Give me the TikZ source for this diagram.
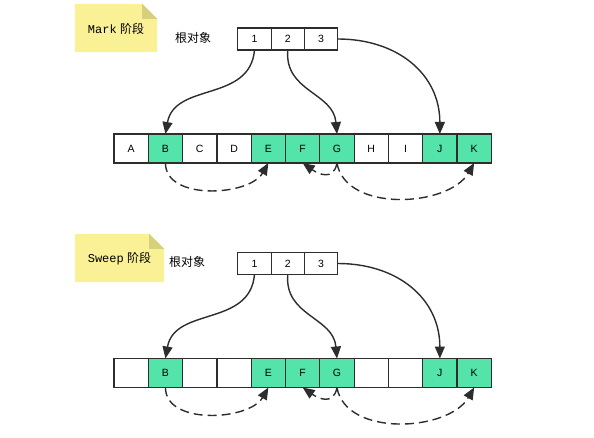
\documentclass[tikz,border=0pt]{standalone}
\usepackage{fontspec}
\setmainfont{Liberation Sans}
\setmonofont{Liberation Mono}
\newfontfamily\cjk{Noto Sans CJK SC}
\usepackage{tikz}
\usetikzlibrary{arrows.meta, positioning}

\definecolor{live}{RGB}{84,228,170}
\definecolor{notebg}{RGB}{250,240,150}
\definecolor{notefold}{RGB}{214,208,122}
\definecolor{edge}{RGB}{45,45,45}

\begin{document}
\begin{tikzpicture}[x=1pt, y=-1pt,
    cell/.style={rectangle, draw=edge, line width=1.2pt, minimum width=34.3pt,
                 minimum height=29pt, inner sep=0pt, outer sep=0pt, font=\fontsize{10.5}{12}\selectfont},
    root/.style={rectangle, draw=edge, line width=1.2pt, minimum width=33.3pt,
                 minimum height=22pt, inner sep=0pt, outer sep=0pt, font=\fontsize{10.5}{12}\selectfont},
    note/.style={minimum height=48pt, inner sep=0pt, font=\fontsize{12}{14}\selectfont},
    lbl/.style={font=\cjk\fontsize{12}{14}\selectfont},
    arr/.style={-{Triangle[length=12pt, width=10pt]}, line width=1.4pt, edge},
    dash arr/.style={arr, dash pattern=on 9pt off 5pt}
]
\useasboundingbox (0,0) rectangle (594,438);

% Mark phase
\foreach \l/\c [count=\i] in {A/white, B/live, C/white, D/white, E/live, F/live,
                               G/live, H/white, I/white, J/live, K/live}
    \node[cell, fill=\c] (m\i) at ({131.15+34.3*(\i-1)}, 148.5) {\l};
\node[root] (mr1) at (254.5, 39) {1};
\node[root, right=0pt of mr1] (mr2) {2};
\node[root, right=0pt of mr2] (mr3) {3};
\node[lbl] (mrl) at (193, 38) {根对象};
\node[note, minimum width=82pt] (mn) at (116, 28) {};

% Sweep phase
\foreach \l/\c [count=\i] in {/white, B/live, /white, /white, E/live, F/live,
                               G/live, /white, /white, J/live, K/live}
    \node[cell, fill=\c] (s\i) at ({131.15+34.3*(\i-1)}, 373) {\l};
\node[root] (sr1) at (254.5, 263.5) {1};
\node[root, right=0pt of sr1] (sr2) {2};
\node[root, right=0pt of sr2] (sr3) {3};
\node[lbl] (srl) at (187, 262) {根对象};
\node[note, minimum width=89pt] (sn) at (119.5, 258) {};

% sticky notes with folded corner
\foreach \n/\t in {mn/Mark, sn/Sweep} {
    \fill[notebg] (\n.south west) -- (\n.north west) -- ([xshift=-15pt]\n.north east)
        -- ([yshift=-15pt]\n.north east) -- (\n.south east) -- cycle;
    \fill[notefold] ([xshift=-15pt]\n.north east) -- ([yshift=-15pt]\n.north east)
        -- ([xshift=-15pt, yshift=-15pt]\n.north east) -- cycle;
    \node[note] at ([yshift=-1pt]\n) {\texttt{\t}\ {\cjk 阶段}};
}

% references from the roots and between objects
\foreach \r in {m, s} {
    \draw[arr] (\r r1.south) to[out=-95, in=80, looseness=1.1] (\r2.north);
    \draw[arr] (\r r2.south) to[out=-95, in=95, looseness=1.1] (\r7.north);
    \draw[arr] (\r r3.east) to[out=0, in=90, looseness=1.1] (\r10.north);
    \draw[dash arr] (\r2.south) to[out=-90, in=-120, looseness=0.95] (\r5.south);
    \draw[dash arr] (\r7.south) to[out=-100, in=-35, looseness=1.4] (\r6.south);
    \draw[dash arr] (\r7.south) to[out=-80, in=-120, looseness=0.95] (\r11.south);
}
\end{tikzpicture}
\end{document}
